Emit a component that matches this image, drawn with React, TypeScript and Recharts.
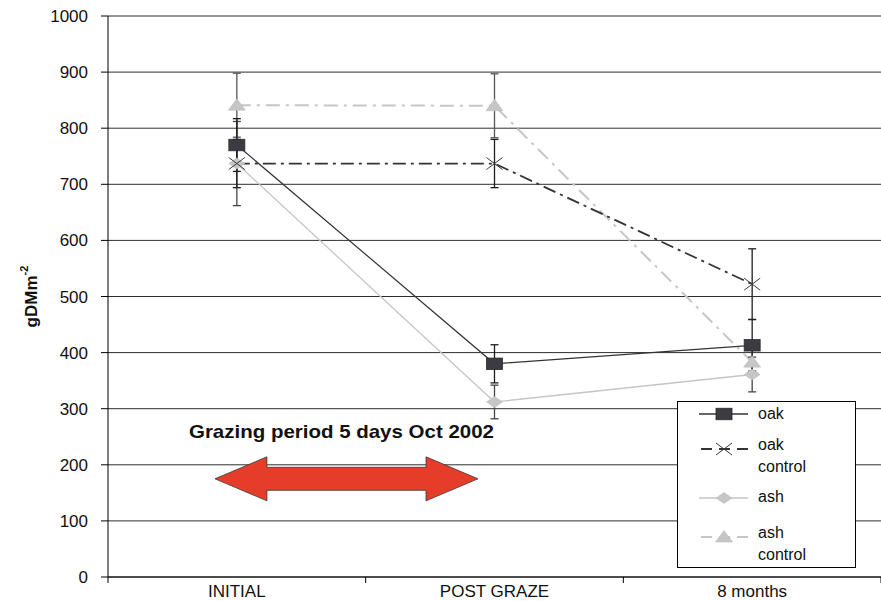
import React from 'react';
import {
  LineChart,
  Line,
  XAxis,
  YAxis,
  CartesianGrid,
  ErrorBar,
  ReferenceLine,
  Legend,
} from 'recharts';

if (typeof document !== 'undefined') {
  document.body.style.margin = '0';
}

// Sampling occasions
const categories = ['INITIAL', 'POST GRAZE', '8 months'];

// Herbage mass (g DM m-2) with error half-widths
const oak = [770, 380, 413];
const oakErr = [47, 34, 46];
const oakControl = [737, 737, 522];
const oakControlErr = [43, 43, 63];
const ash = [737, 312, 361];
const ashErr = [75, 30, 31];
const ashControl = [841, 840, 383];
const ashControlErr = [57, 57, 22];

const yTicks = [0, 100, 200, 300, 400, 500, 600, 700, 800, 900, 1000];
// category centres at integers, band boundaries at halves
const xTicks = [-0.5, 0, 0.5, 1, 1.5, 2, 2.5];

// Grazing period annotation, in data units
const grazingLabel = 'Grazing period 5 days Oct 2002';
const grazingStart = -0.085;
const grazingEnd = 0.936;
const grazingLevel = 175;

const data = categories.map((c, i) => ({
  x: i,
  name: c,
  oak: oak[i],
  oakErr: oakErr[i],
  oakControl: oakControl[i],
  oakControlErr: oakControlErr[i],
  ash: ash[i],
  ashErr: ashErr[i],
  ashControl: ashControl[i],
  ashControlErr: ashControlErr[i],
}));

const FONT = '"Liberation Sans", Arial, Helvetica, sans-serif';
const DARK = '#333236';
const LIGHT = '#c6c6c6';

type MarkerKind = 'square' | 'cross' | 'diamond' | 'triangle';

const Marker = ({ kind, cx, cy }: { kind: MarkerKind; cx: number; cy: number }) => {
  if (kind === 'square') {
    return <rect x={cx - 8} y={cy - 5.75} width={16} height={11.5} fill="#3c3b41" stroke="#2a2a2e" strokeWidth={0.8} />;
  }
  if (kind === 'cross') {
    return (
      <g stroke="#3a3a3a" strokeWidth={1}>
        <line x1={cx - 8} y1={cy - 6} x2={cx + 8} y2={cy + 6} />
        <line x1={cx - 8} y1={cy + 6} x2={cx + 8} y2={cy - 6} />
      </g>
    );
  }
  if (kind === 'diamond') {
    return (
      <polygon
        points={`${cx},${cy - 5.5} ${cx + 8},${cy} ${cx},${cy + 5.5} ${cx - 8},${cy}`}
        fill={LIGHT}
        stroke="#bdbdbd"
        strokeWidth={0.6}
      />
    );
  }
  return (
    <polygon
      points={`${cx},${cy - 6.5} ${cx + 8.5},${cy + 5} ${cx - 8.5},${cy + 5}`}
      fill={LIGHT}
      stroke="#bdbdbd"
      strokeWidth={0.6}
    />
  );
};

const seriesStyle: Record<
  string,
  { label: string[]; color: string; dash?: string; width: number; marker: MarkerKind; errColor: string }
> = {
  ashControl: { label: ['ash', 'control'], color: LIGHT, dash: '14 6 3 6', width: 2, marker: 'triangle', errColor: '#555' },
  ash: { label: ['ash'], color: LIGHT, width: 1.3, marker: 'diamond', errColor: '#444' },
  oakControl: { label: ['oak', 'control'], color: DARK, dash: '13 5 3 5', width: 1.8, marker: 'cross', errColor: '#1e1e1e' },
  oak: { label: ['oak'], color: DARK, width: 1.2, marker: 'square', errColor: '#1e1e1e' },
};

const drawOrder = ['ashControl', 'ash', 'oakControl', 'oak'];
const legendOrder = ['oak', 'oakControl', 'ash', 'ashControl'];

const XTick = (props: any) => {
  const { x, y, payload } = props;
  const v = payload.value;
  if (Number.isInteger(v)) {
    return (
      <text x={x} y={y} dy="0.71em" textAnchor="middle" fontSize={17} fontFamily={FONT} fill="#111">
        {categories[v]}
      </text>
    );
  }
  // boundary tick between categories
  return <line x1={x} x2={x} y1={y - 8} y2={y - 2} stroke="#000" strokeWidth={1} />;
};

const YLabel = (props: any) => {
  const { viewBox } = props;
  const cx = viewBox.x + 31;
  const cy = viewBox.y + viewBox.height / 2;
  return (
    <text
      x={cx}
      y={cy}
      transform={`rotate(-90 ${cx} ${cy})`}
      textAnchor="middle"
      dominantBaseline="central"
      fontFamily={FONT}
      fontWeight="bold"
      fontSize={17}
      fill="#111"
    >
      gDMm<tspan dy={-7} fontSize={11}>-2</tspan>
    </text>
  );
};

const GrazingArrow = (props: any) => {
  const { x1, y1, x2 } = props;
  const y = y1;
  const head = 52;
  const hh = 22;
  const sh = 11.5;
  const d =
    `M${x1},${y} L${x1 + head},${y - hh} L${x1 + head},${y - sh} L${x2 - head},${y - sh} ` +
    `L${x2 - head},${y - hh} L${x2},${y} L${x2 - head},${y + hh} L${x2 - head},${y + sh} ` +
    `L${x1 + head},${y + sh} L${x1 + head},${y + hh} Z`;
  return (
    <g>
      <text
        x={(x1 + x2) / 2 - 5}
        y={y - 41}
        textAnchor="middle"
        fontFamily={FONT}
        fontWeight="bold"
        fontSize={19}
        textLength={305}
        lengthAdjust="spacingAndGlyphs"
        fill="#111"
      >
        {grazingLabel}
      </text>
      <path d={d} fill="#e53d29" stroke="#3a3a3a" strokeWidth={0.8} />
    </g>
  );
};

// symbol / first text line centres inside the legend box
const legendSymbolY = [12, 47, 96, 135];
const legendTextY = [12, 43, 95, 131];

const LegendBox = () => (
  <div style={{ position: 'relative', width: '100%', height: '100%', fontFamily: FONT }}>
    {legendOrder.map((key, i) => {
      const s = seriesStyle[key];
      return (
        <React.Fragment key={key}>
          <svg
            width={60}
            height={20}
            style={{ position: 'absolute', left: 17, top: legendSymbolY[i] - 10, overflow: 'visible' }}
          >
            <line x1={4} x2={53} y1={10} y2={10} stroke={s.color} strokeWidth={s.width > 1.5 ? 1.8 : 1.3} strokeDasharray={s.dash ? '11 7' : undefined} strokeDashoffset={s.dash ? -2 : 0} />
            <Marker kind={s.marker} cx={29} cy={10} />
          </svg>
          <div
            style={{
              position: 'absolute',
              left: 80,
              top: legendTextY[i] - 11,
              fontSize: 16,
              lineHeight: '21.5px',
              color: '#111',
            }}
          >
            {s.label.map((t) => (
              <div key={t}>{t}</div>
            ))}
          </div>
        </React.Fragment>
      );
    })}
  </div>
);

export default function App() {
  return (
    <div style={{ width: 881, height: 601, background: '#fff' }}>
      <LineChart width={881} height={601} data={data} margin={{ top: 16, right: 0, bottom: 0, left: 0 }}>
        <CartesianGrid horizontal vertical={false} stroke="#2e2e2e" strokeWidth={1} />
        <XAxis
          dataKey="x"
          type="number"
          domain={[-0.5, 2.5]}
          ticks={xTicks}
          interval={0}
          height={24}
          tickSize={6}
          tickMargin={2}
          tickLine={false}
          tick={<XTick />}
          axisLine={{ stroke: '#000', strokeWidth: 1 }}
          allowDataOverflow
        />
        <YAxis
          type="number"
          domain={[0, 1000]}
          ticks={yTicks}
          interval={0}
          width={108}
          tickSize={7}
          tickMargin={13}
          axisLine={{ stroke: '#000', strokeWidth: 1 }}
          tickLine={{ stroke: '#000', strokeWidth: 1 }}
          tick={{ fontSize: 17, fontFamily: FONT, fill: '#111' }}
          label={<YLabel />}
        />
        <ReferenceLine
          segment={[
            { x: grazingStart, y: grazingLevel },
            { x: grazingEnd, y: grazingLevel },
          ]}
          ifOverflow="visible"
          shape={<GrazingArrow />}
        />
        {drawOrder.map((key) => {
          const s = seriesStyle[key];
          return (
            <Line
              key={key}
              dataKey={key}
              name={s.label.join(' ')}
              type="linear"
              stroke={s.color}
              strokeWidth={s.width}
              strokeDasharray={s.dash}
              isAnimationActive={false}
              dot={(p: any) => <Marker key={`${key}-${p.index}`} kind={s.marker} cx={p.cx} cy={p.cy} />}
              activeDot={false}
            >
              <ErrorBar dataKey={`${key}Err`} direction="y" width={4} stroke={s.errColor} strokeWidth={1.3} isAnimationActive={false} />
            </Line>
          );
        })}
        <Legend
          layout="vertical"
          align="center"
          verticalAlign="middle"
          content={<LegendBox />}
          wrapperStyle={{
            position: 'absolute',
            left: 677,
            top: 401,
            width: 179,
            height: 167,
            border: '1px solid #000',
            background: '#fff',
            boxSizing: 'border-box',
            margin: 0,
          }}
        />
      </LineChart>
    </div>
  );
}
